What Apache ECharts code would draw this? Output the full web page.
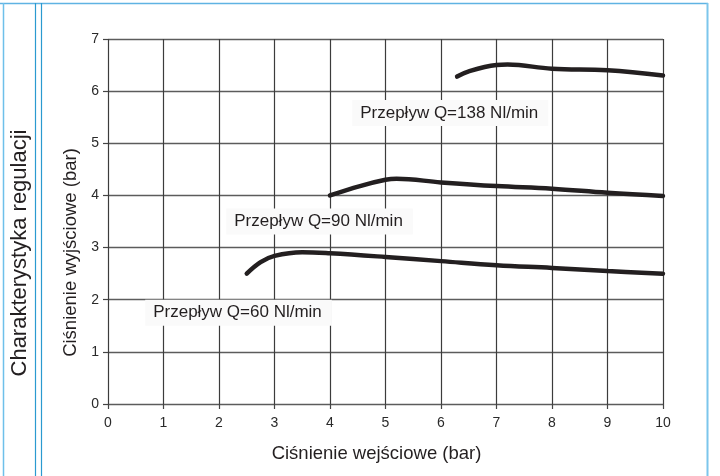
<!DOCTYPE html>
<html><head><meta charset="utf-8">
<script src="https://cdn.jsdelivr.net/npm/echarts@6/dist/echarts.min.js"></script>
<style>html,body{margin:0;padding:0;background:#fff}#c{width:720px;height:476px}</style>
</head><body><div id="c"></div>
<script>
var xTicks = [0,1,2,3,4,5,6,7,8,9,10];
var yTicks = [0,1,2,3,4,5,6,7];
var q60 = [[2.5,2.5],[2.75,2.72],[3,2.84],[3.5,2.91],[4,2.89],[5,2.82],[6,2.74],[7,2.66],[8,2.61],[9,2.55],[10,2.5]];
var q90 = [[4,4.0],[4.54,4.18],[5,4.30],[5.2,4.32],[6,4.25],[7,4.18],[8,4.13],[9,4.05],[10,3.99]];
var q138 = [[6.29,6.28],[6.5,6.38],[7,6.50],[7.2,6.51],[8,6.43],[9,6.40],[10,6.30]];
var labels = [
  {name:'Przepływ Q=138 Nl/min', x:4.40, y:5.58},
  {name:'Przepływ Q=90 Nl/min', x:2.13, y:3.50},
  {name:'Przepływ Q=60 Nl/min', x:0.67, y:1.75}
];
var F = 'Liberation Sans, Arial, Helvetica, sans-serif';
var chart = echarts.init(document.getElementById('c'));
function line(d){
  return {type:'line', data:d, smooth:0.4, symbol:'none', z:3,
    lineStyle:{color:'#231f20', width:4.5, cap:'round'}};
}
chart.setOption({
  animation:false,
  backgroundColor:'#fff',
  grid:{left:108, right:57, top:39, bottom:72},
  xAxis:{type:'value', min:0, max:10, interval:1,
    name:'Ciśnienie wejściowe (bar)', nameLocation:'middle', nameGap:40,
    nameTextStyle:{fontFamily:F, fontSize:18.5, color:'#231f20', padding:[0,18,0,0]},
    axisLine:{show:false},
    axisTick:{show:true, length:5, lineStyle:{color:'#444', width:1.2}},
    axisLabel:{fontFamily:F, fontSize:14, color:'#2a2a2a', margin:12},
    splitLine:{show:true, lineStyle:{color:'#3c3c3c', width:1.2}}},
  yAxis:{type:'value', min:0, max:7, interval:1,
    name:'Ciśnienie wyjściowe (bar)', nameLocation:'middle', nameGap:26, nameRotate:90,
    nameTextStyle:{fontFamily:F, fontSize:18.5, color:'#231f20', padding:[0,62,0,0]},
    axisLine:{show:false},
    axisTick:{show:true, length:5, lineStyle:{color:'#444', width:1.2}},
    axisLabel:{fontFamily:F, fontSize:14, color:'#2a2a2a', margin:9},
    splitLine:{show:true, lineStyle:{color:'#5c5c5c', width:1.4}}},
  series:[
    line(q60), line(q90), line(q138),
    {type:'scatter', symbolSize:0, z:4, itemStyle:{opacity:1},
      data:labels.map(function(l){return {name:l.name, value:[l.x,l.y]};}),
      label:{show:true, position:'right', distance:0, formatter:'{b}',
        fontFamily:F, fontSize:17, color:'#231f20', opacity:1,
        backgroundColor:'#fafafa', padding:[5,10,4,8]}}
  ],
  graphic:[
    {type:'line', shape:{x1:0,y1:3.5,x2:708,y2:3.5}, style:{stroke:'#5fb3e3', lineWidth:1.5}},
    {type:'line', shape:{x1:707.5,y1:3,x2:707.5,y2:476}, style:{stroke:'#7cc6ec', lineWidth:2}},
    {type:'line', shape:{x1:3.5,y1:3,x2:3.5,y2:476}, style:{stroke:'#6ec0ea', lineWidth:1.5}},
    {type:'line', shape:{x1:35.5,y1:3,x2:35.5,y2:476}, style:{stroke:'#2b9ad0', lineWidth:1.2}},
    {type:'line', shape:{x1:41.5,y1:3,x2:41.5,y2:476}, style:{stroke:'#2b9ad0', lineWidth:1.2}},
    {type:'text', x:20, y:253, rotation:Math.PI/2,
      style:{text:'Charakterystyka regulacji', fontFamily:F, fontSize:22, fill:'#231f20',
        textAlign:'center', textVerticalAlign:'middle'}}
  ]
});
</script></body></html>
